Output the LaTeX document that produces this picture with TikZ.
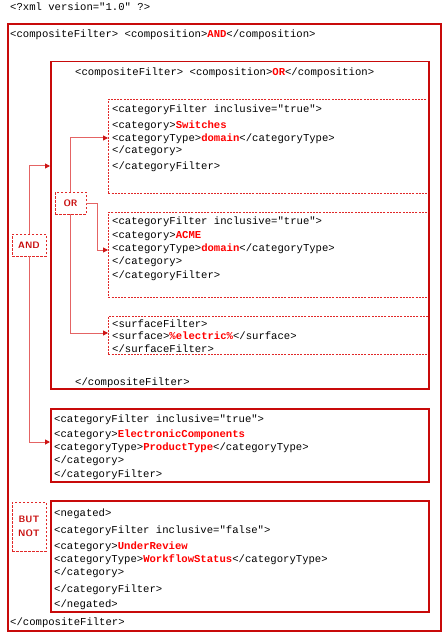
\documentclass[tikz,border=0pt]{standalone}
\usepackage{fontspec}
\setmainfont{Liberation Sans}
\setmonofont{Liberation Mono}
\usetikzlibrary{arrows.meta}
\definecolor{boxred}{RGB}{200,10,10}
\definecolor{dashred}{RGB}{225,40,40}
\definecolor{connred}{RGB}{228,100,100}
\definecolor{tipred}{RGB}{205,20,20}
\definecolor{hired}{RGB}{255,0,0}
\newcommand\rb[1]{\textcolor{hired}{\textbf{#1}}}
\begin{document}
\begin{tikzpicture}[x=1pt,y=-1pt,
  code/.style={anchor=base west,inner sep=0pt,font=\ttfamily\fontsize{10.6}{12}\selectfont,text=black},
  solidbox/.style={draw=boxred,line width=1.5pt,anchor=north west,inner sep=0pt},
  dashbox/.style={draw=dashred,line width=0.8pt,dash pattern=on 2pt off 1.2pt,anchor=north west,inner sep=0pt},
  oplabel/.style={draw=dashred,line width=0.8pt,dash pattern=on 2.5pt off 1.5pt,inner sep=0pt,align=center,
     font=\sffamily\bfseries\fontsize{9.3}{14.5}\selectfont,text=boxred},
  conn/.style={draw=connred,line width=1pt,-{Triangle[length=5pt,width=5pt,color=tipred]}}
]
\useasboundingbox (0,0) rectangle (445,639);
\fill[white] (0,0) rectangle (445,639);

% dashed filter boxes (drawn first so the solid edge covers their right side)
\node[dashbox,minimum width=320pt,minimum height=94pt] (f1) at (108,99) {};
\node[dashbox,minimum width=320pt,minimum height=85pt] (f2) at (108,212) {};
\node[dashbox,minimum width=320pt,minimum height=38pt] (f3) at (108,316) {};

% solid boxes
\node[draw=boxred,line width=2.2pt,anchor=north west,inner sep=0pt,minimum width=433pt,minimum height=607pt] (outer) at (7,23) {};
\node[solidbox,minimum width=378pt,minimum height=327pt] (orf) at (50,61) {};
\node[solidbox,minimum width=378pt,minimum height=73pt] (ec) at (50,408) {};
\node[solidbox,minimum width=378pt,minimum height=111pt] (neg) at (50,500) {};

% operator labels
\node[oplabel,minimum width=34pt,minimum height=22pt] (and) at (29,245) {AND};
\node[oplabel,minimum width=31pt,minimum height=22pt] (or) at (70.5,203) {OR};
\node[oplabel,minimum width=34pt,minimum height=49pt] (butnot) at (29,526.5) {BUT\\NOT};

% connectors
\draw[conn] (and.north) |- ([yshift=-105pt]orf.north west);
\draw[conn] (and.south) |- ([yshift=-34pt]ec.north west);
\draw[conn] (or.north) |- ([yshift=-39pt]f1.north west);
\draw[conn] (or.east) -- ++(11,0) |- ([yshift=-38pt]f2.north west);
\draw[conn] (or.south) |- ([yshift=-17pt]f3.north west);

% texts
\node[code] (x0) at (10,10.5) {<?xml version="1.0" ?>};
\node[code] (o1) at (10,37.5) {<compositeFilter> <composition>\rb{AND}</composition>};
\node[code] (o2) at (10,625.5) {</compositeFilter>};

\node[code] (r1) at (75,75.5) {<compositeFilter> <composition>\rb{OR}</composition>};
\node[code] (r2) at (75,385.5) {</compositeFilter>};

\node[code] (a1) at (112,112.5) {<categoryFilter inclusive="true">};
\node[code] (a2) at (112,128.5) {<category>\rb{Switches}};
\node[code] (a3) at (112,141.5) {<categoryType>\rb{domain}</categoryType>};
\node[code] (a4) at (112,153.5) {</category>};
\node[code] (a5) at (112,169.5) {</categoryFilter>};

\node[code] (b1) at (112,224.5) {<categoryFilter inclusive="true">};
\node[code] (b2) at (112,238.5) {<category>\rb{ACME}};
\node[code] (b3) at (112,251.5) {<categoryType>\rb{domain}</categoryType>};
\node[code] (b4) at (112,264.5) {</category>};
\node[code] (b5) at (112,278.5) {</categoryFilter>};

\node[code] (c1) at (112,327.5) {<surfaceFilter>};
\node[code] (c2) at (112,339.5) {<surface>\rb{\%electric\%}</surface>};
\node[code] (c3) at (112,352.5) {</surfaceFilter>};

\node[code] (d1) at (54,422.5) {<categoryFilter inclusive="true">};
\node[code] (d2) at (54,437.5) {<category>\rb{ElectronicComponents}};
\node[code] (d3) at (54,450.5) {<categoryType>\rb{ProductType}</categoryType>};
\node[code] (d4) at (54,463.5) {</category>};
\node[code] (d5) at (54,477.5) {</categoryFilter>};

\node[code] (e1) at (54,516.5) {<negated>};
\node[code] (e2) at (54,533.5) {<categoryFilter inclusive="false">};
\node[code] (e3) at (54,549.5) {<category>\rb{UnderReview}};
\node[code] (e4) at (54,562.5) {<categoryType>\rb{WorkflowStatus}</categoryType>};
\node[code] (e5) at (54,575.5) {</category>};
\node[code] (e6) at (54,592.5) {</categoryFilter>};
\node[code] (e7) at (54,607.5) {</negated>};
\end{tikzpicture}
\end{document}
